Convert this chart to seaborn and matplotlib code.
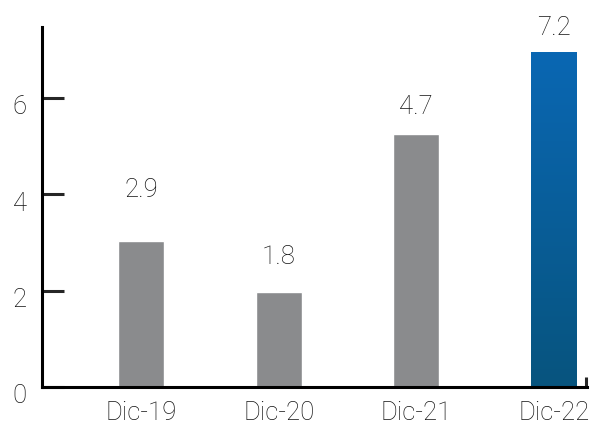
import numpy as np
import pandas as pd
import matplotlib.pyplot as plt
import seaborn as sns
from matplotlib.colors import LinearSegmentedColormap
from matplotlib.transforms import ScaledTranslation

# data
periods = ["Dic-19", "Dic-20", "Dic-21", "Dic-22"]
bar_heights = [3.03, 1.97, 5.25, 6.95]
value_labels = ["2.9", "1.8", "4.7", "7.2"]
y_ticks = [0, 2, 4, 6]

df = pd.DataFrame({"period": periods, "height": bar_heights})

sns.set_style("white")
plt.rcParams["font.family"] = ["Roboto", "DejaVu Sans"]
plt.rcParams["font.weight"] = "light"

text_color = "#141414"
gray = "#8a8b8d"
fsize = 18.5

fig = plt.figure(figsize=(5.94, 4.26), dpi=100)
ax = fig.add_axes([0.0707, 0.0915, 0.9175, 0.8451])

sns.barplot(data=df, x="period", y="height", color=gray, width=0.334,
            saturation=1, ax=ax)

# gradient fill for the last bar
last = ax.patches[-1]
x0, y0 = last.get_x(), last.get_y()
w, h = last.get_width(), last.get_height()
cmap = LinearSegmentedColormap.from_list("blu", ["#07547e", "#0a67b3"])
grad = np.linspace(0, 1, 256).reshape(-1, 1)
img = ax.imshow(grad, cmap=cmap, origin="lower", aspect="auto",
                extent=[x0, x0 + w, y0, y0 + h], zorder=last.get_zorder() + 0.1)
img.set_clip_path(last)

# value labels above the bars (offsets in points, as in the reference)
offsets = [37, 25, 19.5, 17.5]
for p, lab, off in zip(ax.patches, value_labels, offsets):
    ax.annotate(lab, (p.get_x() + p.get_width() / 2, p.get_height()),
                xytext=(0, off), textcoords="offset points",
                ha="center", va="center", fontsize=fsize, color=text_color,
                fontweight="light")

ax.set_xlim(-0.72, 3.24)
ax.set_ylim(0, 7.47)
ax.set_yticks(y_ticks)
ax.set_xlabel("")
ax.set_ylabel("")

for side in ["top", "right"]:
    ax.spines[side].set_visible(False)
for side in ["left", "bottom"]:
    ax.spines[side].set_linewidth(2.2)
    ax.spines[side].set_color("black")

ax.tick_params(axis="y", direction="in", length=16, width=2.2, pad=11,
               labelsize=fsize, labelcolor=text_color, left=True)
ax.tick_params(axis="x", length=0, pad=10, labelsize=fsize,
               labelcolor=text_color)
for t in ax.get_xticklabels() + ax.get_yticklabels():
    t.set_fontweight("light")

# the y labels sit a little below their ticks in the reference
shift = ScaledTranslation(0, -5 / 72, fig.dpi_scale_trans)
for t in ax.get_yticklabels():
    t.set_transform(t.get_transform() + shift)

# small closing tick at the right end of the x axis
ax.set_xticks([3.232], minor=True)
ax.tick_params(axis="x", which="minor", direction="in", length=7, width=2.2,
               bottom=True)

fig.savefig("out.png", dpi=100)
